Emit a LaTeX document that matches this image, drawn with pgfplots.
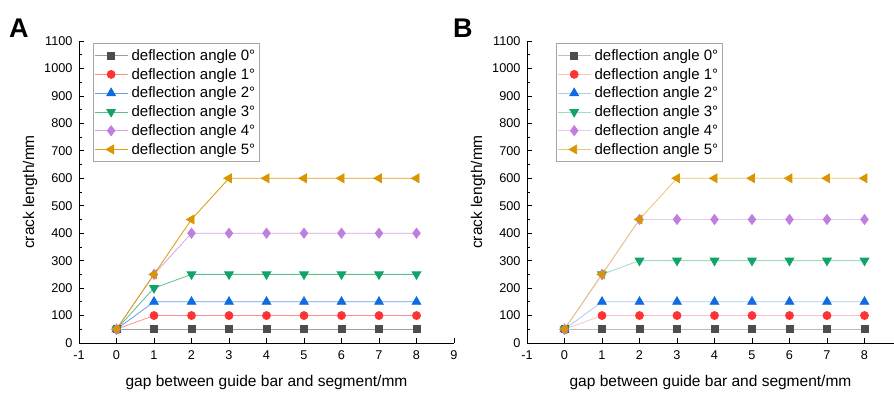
\documentclass[border=0pt]{standalone}
\usepackage{fontspec}
\setmainfont{Liberation Sans}
\usepackage{pgfplots}
\pgfplotsset{compat=1.18}
\definecolor{cA}{HTML}{4D4D4D}
\definecolor{cB}{HTML}{FF3333}
\definecolor{cC}{HTML}{0F6BE0}
\definecolor{cD}{HTML}{12A466}
\definecolor{cE}{HTML}{C07FE0}
\definecolor{cF}{HTML}{D99600}
\pgfplotsset{
  common/.style={
    scale only axis,
    height=302pt,
    axis lines=left,
    axis line style={-, line width=0.9pt, black},
    tick align=inside,
    major tick length=5pt,
    minor tick length=3pt,
    tick style={black, line width=0.8pt},
    ymin=0, ymax=1100,
    ytick={0,100,...,1100},
    minor y tick num=1,
    xtick={-1,0,...,9},
    ticklabel style={font=\fontsize{12.7}{14}\selectfont},
    xticklabel style={yshift=-4pt},
    yticklabel style={xshift=-3pt},
    /pgf/number format/assume math mode=true,
    /pgf/number format/1000 sep={},
    xlabel={gap between guide bar and segment/mm},
    ylabel={crack length/mm},
    label style={font=\fontsize{15.5}{18}\selectfont},
    xlabel style={yshift=-9pt},
    ylabel style={yshift=0pt},
    clip=false,
    legend cell align=left,
    legend style={draw=gray!70, line width=0.6pt, font=\fontsize{15}{17}\selectfont,
      anchor=north west, inner xsep=1pt, inner ysep=4pt, row sep=2.4pt,
      nodes={inner xsep=3.5pt, inner ysep=2pt}},
    legend image code/.code={
      \draw[mark repeat=2,mark phase=2] plot coordinates {(0pt,0pt) (16.5pt,0pt) (33pt,0pt)};},
  },
  s0/.style={color=gray!75, line width=0.8pt, mark=square*, mark size=3.5pt, mark options={fill=cA, draw=cA}},
  s1/.style={color=cB!55, line width=0.8pt, mark=*, mark size=4pt, mark options={fill=cB, draw=cB}},
  s2/.style={color=cC!65, line width=0.8pt, mark=triangle*, mark size=5pt, mark options={fill=cC, draw=cC}},
  s3/.style={color=cD!70, line width=0.8pt, mark=triangle*, mark size=5pt, mark options={fill=cD, draw=cD, rotate=180}},
  s4/.style={color=cE!70, line width=0.8pt, mark=diamond*, mark size=5pt, mark options={fill=cE, draw=cE}},
  s5/.style={color=cF!90, line width=0.9pt, mark=triangle*, mark size=5pt, mark options={fill=cF, draw=cF, rotate=90}},
  t0/.style={color=gray!50, line width=0.8pt, mark=square*, mark size=3.5pt, mark options={fill=cA, draw=cA}},
  t1/.style={color=cB!30, line width=0.8pt, mark=*, mark size=4pt, mark options={fill=cB, draw=cB}},
  t2/.style={color=cC!35, line width=0.8pt, mark=triangle*, mark size=5pt, mark options={fill=cC, draw=cC}},
  t3/.style={color=cD!40, line width=0.8pt, mark=triangle*, mark size=5pt, mark options={fill=cD, draw=cD, rotate=180}},
  t4/.style={color=cE!40, line width=0.8pt, mark=diamond*, mark size=5pt, mark options={fill=cE, draw=cE}},
  t5/.style={color=cF!55, line width=0.8pt, mark=triangle*, mark size=5pt, mark options={fill=cF, draw=cF, rotate=90}},
}
\begin{document}
\begin{tikzpicture}[x=1pt,y=1pt]
\begin{axis}[common, width=375pt, xmin=-1, xmax=9,
  at={(79pt,49pt)}, anchor=south west,
  legend style={at={(0.037,0.993)}}]
\addplot[s0] coordinates {(0,50) (1,50) (2,50) (3,50) (4,50) (5,50) (6,50) (7,50) (8,50)};
\addplot[s1] coordinates {(0,50) (1,100) (2,100) (3,100) (4,100) (5,100) (6,100) (7,100) (8,100)};
\addplot[s2] coordinates {(0,50) (1,150) (2,150) (3,150) (4,150) (5,150) (6,150) (7,150) (8,150)};
\addplot[s3] coordinates {(0,50) (1,200) (2,250) (3,250) (4,250) (5,250) (6,250) (7,250) (8,250)};
\addplot[s4] coordinates {(0,50) (1,250) (2,400) (3,400) (4,400) (5,400) (6,400) (7,400) (8,400)};
\addplot[s5] coordinates {(0,50) (1,250) (2,450) (3,600) (4,600) (5,600) (6,600) (7,600) (8,600)};
\legend{deflection angle 0°,deflection angle 1°,deflection angle 2°,deflection angle 3°,deflection angle 4°,deflection angle 5°}
\end{axis}
\begin{axis}[common, width=367pt, xmin=-1, xmax=8.787, xtick={-1,0,...,8},
  at={(527pt,49pt)}, anchor=south west,
  legend style={at={(0.079,0.993)}}]
\addplot[t0] coordinates {(0,50) (1,50) (2,50) (3,50) (4,50) (5,50) (6,50) (7,50) (8,50)};
\addplot[t1] coordinates {(0,50) (1,100) (2,100) (3,100) (4,100) (5,100) (6,100) (7,100) (8,100)};
\addplot[t2] coordinates {(0,50) (1,150) (2,150) (3,150) (4,150) (5,150) (6,150) (7,150) (8,150)};
\addplot[t3] coordinates {(0,50) (1,250) (2,300) (3,300) (4,300) (5,300) (6,300) (7,300) (8,300)};
\addplot[t4] coordinates {(0,50) (1,250) (2,450) (3,450) (4,450) (5,450) (6,450) (7,450) (8,450)};
\addplot[t5] coordinates {(0,50) (1,250) (2,450) (3,600) (4,600) (5,600) (6,600) (7,600) (8,600)};
\legend{deflection angle 0°,deflection angle 1°,deflection angle 2°,deflection angle 3°,deflection angle 4°,deflection angle 5°}
\end{axis}
\node[anchor=base west, inner sep=0pt, font=\fontsize{27}{30}\bfseries] at (9pt,355pt) {A};
\node[anchor=base west, inner sep=0pt, font=\fontsize{27}{30}\bfseries] at (453pt,355pt) {B};
\pgfresetboundingbox
\path[use as bounding box] (0pt,0pt) rectangle (894pt,392pt);
\end{tikzpicture}
\end{document}
